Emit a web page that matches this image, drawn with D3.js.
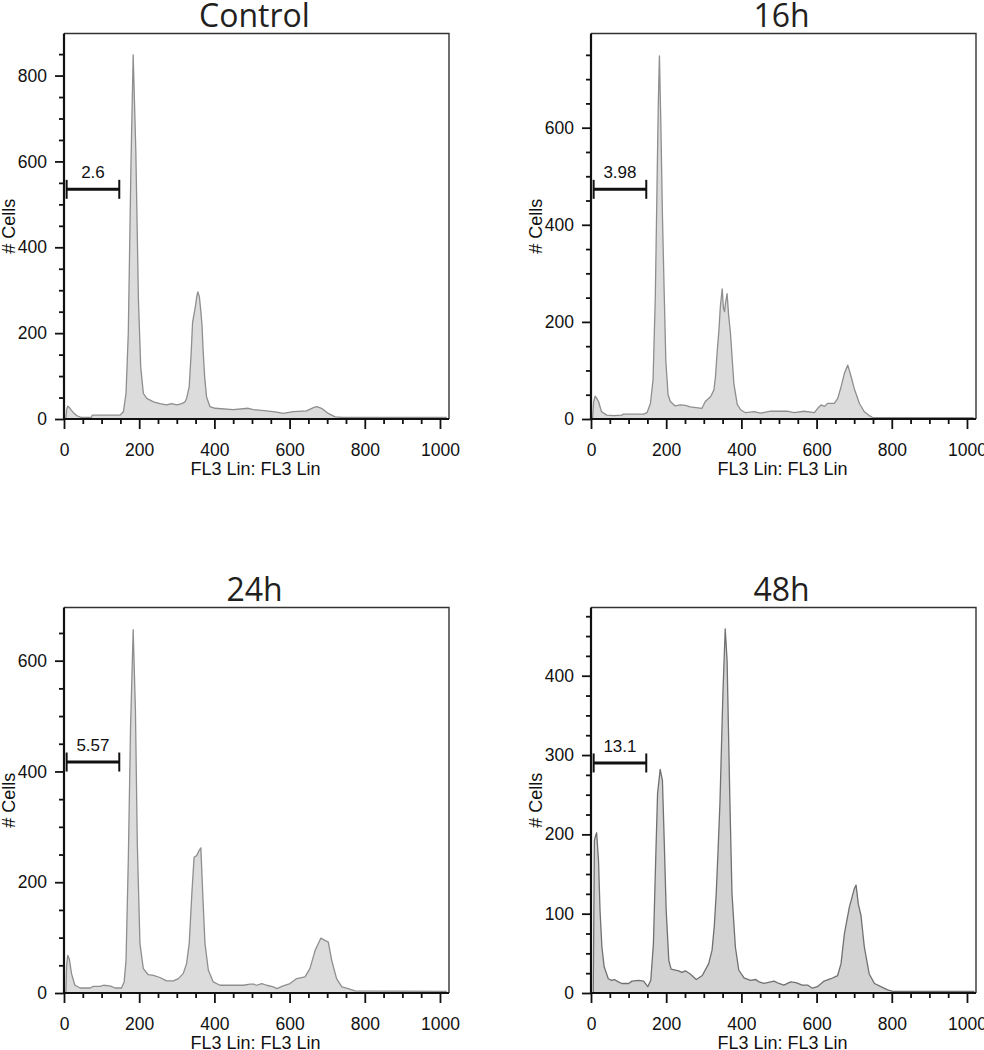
<!DOCTYPE html>
<html>
<head>
<meta charset="utf-8">
<script src="https://cdn.jsdelivr.net/npm/d3@7"></script>
<style>
  html, body { margin: 0; padding: 0; background: #fff; }
  svg { display: block; }
</style>
</head>
<body>
<div id="chart"></div>
<script>
// histogram values: [FL3 channel, # cells]
const controlHist = [
  [5, 0], [7, 22], [10, 30], [14, 27], [20, 20], [28, 12], [36, 7], [45, 4], [60, 4], [73, 4], [75, 9],
  [120, 9], [149, 9], [158, 17], [165, 60], [171, 200], [178, 587], [184, 848], [191, 626], [198, 277],
  [204, 122], [211, 60], [220, 48], [238, 40], [255, 36], [273, 33], [286, 36], [300, 33], [313, 36],
  [322, 40], [326, 48], [333, 75], [338, 150], [342, 225], [346, 245], [350, 265], [353, 285], [356, 296],
  [360, 285], [364, 250], [367, 220], [370, 160], [374, 100], [379, 52], [388, 29], [402, 25], [450, 22],
  [490, 25], [504, 22], [539, 19], [566, 16], [583, 13], [610, 17], [645, 19], [665, 27], [672, 29],
  [685, 25], [703, 13], [721, 5], [740, 4], [1018, 4]
];
const h16Hist = [
  [4, 0], [7, 35], [11, 47], [15, 43], [20, 36], [28, 15], [42, 8], [60, 7], [82, 8], [86, 10], [140, 10],
  [149, 13], [158, 32], [165, 80], [171, 250], [175, 450], [179, 650], [182, 748], [186, 600], [190, 420],
  [195, 250], [199, 120], [205, 50], [211, 36], [224, 27], [238, 29], [251, 28], [264, 25], [295, 22],
  [304, 36], [318, 46], [327, 60], [331, 87], [336, 142], [340, 180], [344, 231], [349, 268], [352, 230],
  [355, 221], [358, 240], [362, 258], [366, 215], [371, 176], [380, 73], [389, 30], [398, 19], [411, 13],
  [434, 15], [451, 12], [478, 16], [522, 16], [540, 13], [567, 16], [594, 13], [603, 22], [612, 29],
  [621, 26], [629, 32], [647, 32], [656, 42], [665, 66], [674, 94], [683, 111], [692, 87], [700, 63],
  [714, 32], [727, 15], [740, 7], [749, 3], [1018, 3]
];
const h24Hist = [
  [5, 0], [7, 50], [10, 68], [14, 62], [20, 35], [29, 14], [43, 9], [69, 9], [78, 12], [96, 12], [105, 14],
  [122, 13], [136, 9], [153, 9], [160, 20], [165, 59], [171, 239], [177, 480], [184, 656], [190, 510],
  [195, 269], [202, 89], [211, 44], [224, 33], [238, 32], [255, 28], [273, 22], [291, 22], [304, 26],
  [317, 35], [326, 53], [333, 89], [340, 179], [346, 245], [353, 248], [359, 257], [364, 262], [369, 179],
  [375, 89], [384, 41], [397, 20], [415, 14], [442, 14], [477, 14], [495, 16], [504, 16], [512, 14],
  [526, 17], [539, 14], [557, 11], [566, 8], [583, 13], [601, 17], [619, 26], [641, 29], [654, 44],
  [668, 77], [683, 99], [694, 95], [703, 92], [712, 59], [725, 26], [739, 11], [756, 8], [774, 4], [1018, 3]
];
const h48Hist = [
  [6, 0], [9, 192], [12, 198], [15, 202], [20, 167], [24, 104], [29, 58], [35, 33], [46, 18], [55, 16],
  [62, 17], [73, 14], [82, 12], [100, 12], [109, 15], [126, 16], [140, 15], [151, 8], [159, 16], [166, 62],
  [172, 167], [177, 251], [184, 282], [190, 268], [195, 188], [200, 104], [207, 41], [213, 30], [233, 28],
  [242, 26], [251, 28], [264, 24], [280, 17], [296, 22], [313, 37], [322, 54], [328, 85], [333, 125],
  [338, 180], [343, 240], [347, 310], [351, 380], [357, 459], [362, 419], [369, 251], [375, 125], [384, 58],
  [393, 29], [407, 19], [424, 16], [438, 17], [447, 14], [460, 12], [478, 14], [487, 15], [500, 12],
  [513, 10], [531, 14], [545, 13], [562, 10], [576, 10], [589, 6], [602, 8], [620, 15], [638, 18],
  [656, 22], [665, 37], [674, 75], [687, 108], [700, 131], [705, 136], [711, 112], [718, 98], [727, 58],
  [740, 24], [754, 12], [771, 8], [789, 4], [803, 2], [1020, 2]
];

const titles = ["Control", "16h", "24h", "48h"];
const series = [controlHist, h16Hist, h24Hist, h48Hist];
const yMax = [898, 794, 696, 486];
const yMajorStep = [200, 200, 200, 100];
const yMinorStep = [50, 50, 50, 25];
const gateLabels = ["2.6", "3.98", "5.57", "13.1"];
const gateLevels = [535, 473, 417, 290];
const gateRange = [7, 147];
const xMax = 1024;
const xMajorTicks = [0, 200, 400, 600, 800, 1000];
const xTitle = "FL3 Lin: FL3 Lin";
const yTitle = "# Cells";

const fills = ["#dcdcdc", "#dcdcdc", "#dcdcdc", "#d3d3d3"];
const strokes = ["#8e8e8e", "#8e8e8e", "#8e8e8e", "#707070"];

const W = 984, H = 1050;
const colLeft = [64, 591];
const rowTop = [33.5, 607.5];
const pw = 385, ph = 385.5;
const sans = "'Liberation Sans', Arial, sans-serif";

const svg = d3.select("#chart").append("svg").attr("width", W).attr("height", H);

series.forEach((data, i) => {
  const left = colLeft[i % 2], top = rowTop[Math.floor(i / 2)];
  const bottom = top + ph, right = left + pw;
  const x = d3.scaleLinear().domain([0, xMax]).range([left, right]);
  const y = d3.scaleLinear().domain([0, yMax[i]]).range([bottom, top]);
  const g = svg.append("g");

  g.append("clipPath").attr("id", "clip" + i)
    .append("rect").attr("x", left).attr("y", top).attr("width", pw).attr("height", ph);

  const area = d3.area().x((d) => x(d[0])).y0(y(0)).y1((d) => y(d[1]));
  const line = d3.line().x((d) => x(d[0])).y((d) => y(d[1]));
  g.append("path").datum(data).attr("clip-path", `url(#clip${i})`)
    .attr("d", area).attr("fill", fills[i]);
  g.append("path").datum(data).attr("clip-path", `url(#clip${i})`)
    .attr("d", line).attr("fill", "none").attr("stroke", strokes[i]).attr("stroke-width", 1.3)
    .attr("stroke-linejoin", "round");

  // frame top/right
  g.append("path").attr("d", `M${left},${top}H${right}V${bottom}`)
    .attr("fill", "none").attr("stroke", "#333").attr("stroke-width", 1.4);

  // x axis
  const xMinor = d3.range(50, 1000, 50).filter((v) => v % 200 !== 0);
  const xa = g.append("g").attr("transform", `translate(0,${bottom})`)
    .call(d3.axisBottom(x).tickValues(xMajorTicks).tickSize(10).tickPadding(15)
      .tickSizeOuter(0).tickFormat(d3.format("d")));
  const xm = g.append("g").attr("transform", `translate(0,${bottom})`)
    .call(d3.axisBottom(x).tickValues(xMinor).tickSize(5).tickFormat(""));

  // y axis
  const yMaj = d3.range(0, yMax[i], yMajorStep[i]);
  const yMin = d3.range(0, yMax[i], yMinorStep[i]).filter((v) => v % yMajorStep[i] !== 0);
  const ya = g.append("g").attr("transform", `translate(${left},0)`)
    .call(d3.axisLeft(y).tickValues(yMaj).tickSize(9).tickPadding(8)
      .tickSizeOuter(0).tickFormat(d3.format("d")));
  const ym = g.append("g").attr("transform", `translate(${left},0)`)
    .call(d3.axisLeft(y).tickValues(yMin).tickSize(5).tickFormat(""));

  [xa, xm, ya, ym].forEach((a) => {
    a.select(".domain").remove();
    a.attr("font-family", sans).attr("font-size", 17.5);
    a.selectAll(".tick line").attr("stroke", "#111").attr("stroke-width", 1.8);
    a.selectAll(".tick text").attr("fill", "#111");
  });

  // axis lines
  g.append("line").attr("x1", left).attr("x2", left).attr("y1", top).attr("y2", bottom + 1)
    .attr("stroke", "#111").attr("stroke-width", 2.2);
  g.append("line").attr("x1", left - 1).attr("x2", right).attr("y1", bottom).attr("y2", bottom)
    .attr("stroke", "#111").attr("stroke-width", 2.2);

  // titles
  g.append("text").attr("x", left + pw / 2 - 2).attr("y", top - 7)
    .attr("text-anchor", "middle").attr("font-family", "'Open Sans', 'Noto Sans', sans-serif")
    .attr("font-size", 32).attr("fill", "#231f20").text(titles[i]);
  g.append("text").attr("x", left + pw / 2 - 1).attr("y", bottom + 56)
    .attr("text-anchor", "middle").attr("font-family", sans).attr("font-size", 18)
    .attr("fill", "#111").text(xTitle);
  g.append("text").attr("transform", `translate(${left - 49},${(top + bottom) / 2}) rotate(-90)`)
    .attr("text-anchor", "middle").attr("font-family", sans).attr("font-size", 18)
    .attr("fill", "#111").text(yTitle);

  // gate marker
  const gy = y(gateLevels[i]);
  const gx0 = x(gateRange[0]), gx1 = x(gateRange[1]);
  g.append("line").attr("x1", gx0).attr("x2", gx1).attr("y1", gy).attr("y2", gy)
    .attr("stroke", "#111").attr("stroke-width", 3);
  [gx0, gx1].forEach((gx) => {
    g.append("line").attr("x1", gx).attr("x2", gx).attr("y1", gy - 9.5).attr("y2", gy + 9.5)
      .attr("stroke", "#111").attr("stroke-width", 2);
  });
  g.append("text").attr("x", (gx0 + gx1) / 2).attr("y", gy - 11)
    .attr("text-anchor", "middle").attr("font-family", sans).attr("font-size", 17)
    .attr("fill", "#111").text(gateLabels[i]);
});
</script>
</body>
</html>
